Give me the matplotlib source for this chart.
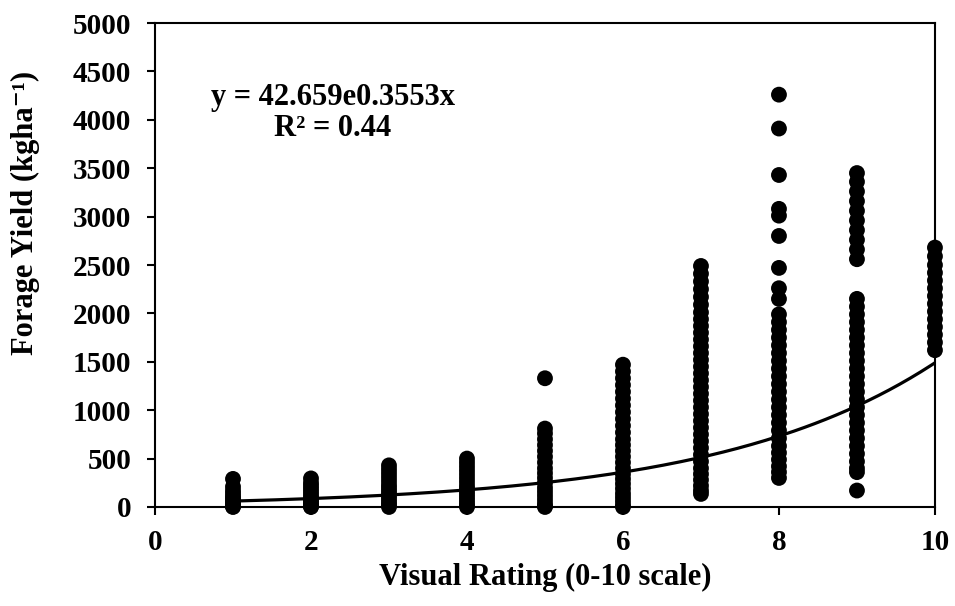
import numpy as np
import matplotlib
matplotlib.use("Agg")
import matplotlib.pyplot as plt

plt.rcParams["font.family"] = ["Liberation Serif", "DejaVu Serif"]
plt.rcParams["font.weight"] = "bold"

# forage yield (kg/ha) for each visual rating
ratings = [1, 2, 3, 4, 5, 6, 7, 8, 9, 10]
r1 = [290, 210, 170, 140, 110, 90, 70, 50, 30, 15, 5, 0]
r2 = [295, 250, 220, 190, 160, 130, 100, 80, 60, 40, 20, 5, 0]
r3 = [430, 390, 350, 310, 270, 230, 200, 170, 140, 110, 80, 50, 25, 0]
r4 = [500, 460, 420, 380, 340, 300, 260, 220, 190, 160, 130, 100, 70, 40, 15, 0]
r5 = [1330, 810, 760, 700, 640, 580, 520, 460, 400, 350, 300, 250, 200,
      160, 120, 80, 40, 10, 0]
r6 = [1470, 1400, 1330, 1260, 1190, 1120, 1050, 980, 910, 840, 770, 700,
      640, 580, 520, 460, 400, 340, 290, 240, 190, 140, 100, 60, 20, 0]
r7 = [2490, 2410, 2330, 2250, 2170, 2090, 2010, 1940, 1870, 1800, 1730,
      1660, 1590, 1520, 1450, 1380, 1310, 1240, 1170, 1100, 1030, 960, 890,
      820, 750, 680, 610, 540, 470, 400, 340, 280, 220, 170, 135]
r8 = [4260, 3910, 3430, 3080, 3010, 2800, 2470, 2260, 2150, 1990, 1910,
      1830, 1750, 1670, 1590, 1510, 1430, 1350, 1270, 1190, 1110, 1030, 950,
      870, 790, 710, 630, 560, 490, 420, 360, 300]
r9 = [3450, 3360, 3260, 3160, 3060, 2960, 2860, 2760, 2660, 2560, 2150,
      2070, 1990, 1910, 1830, 1750, 1670, 1590, 1510, 1430, 1350, 1270, 1190,
      1110, 1030, 950, 870, 790, 710, 630, 550, 470, 400, 360, 170]
r10 = [2680, 2590, 2500, 2420, 2340, 2260, 2180, 2100, 2020, 1940, 1860,
       1780, 1700, 1620]
yields = [r1, r2, r3, r4, r5, r6, r7, r8, r9, r10]

# exponential trendline reported on the chart
fit_a = 42.659
fit_b = 0.3553

fig = plt.figure(figsize=(9.55, 6.06), dpi=100)
ax = fig.add_axes([0.1623, 0.1634, 0.8167, 0.7986])

for r, vals in zip(ratings, yields):
    ax.scatter([r] * len(vals), vals, s=130, color="black", edgecolors="none",
               zorder=2, clip_on=False)

xs = np.linspace(1, 10, 200)
ax.plot(xs, fit_a * np.exp(fit_b * xs), color="black", lw=2.3, zorder=3)

ax.set_xlim(0, 10)
ax.set_ylim(0, 5000)
ax.set_xticks(range(0, 11, 2))
ax.set_yticks(range(0, 5001, 500))
for sp in ax.spines.values():
    sp.set_linewidth(1.5)
ax.tick_params(direction="out", length=6, width=1.5, labelsize=21)
ax.tick_params(axis="x", pad=10)
ax.tick_params(axis="y", pad=11)
for lab in ax.get_xticklabels() + ax.get_yticklabels():
    lab.set_fontweight("bold")

ax.set_xlabel("Visual Rating (0-10 scale)", fontsize=22, fontweight="bold", labelpad=5)
ax.set_ylabel("Forage Yield (kgha\u207b\u00b9)", fontsize=22, fontweight="bold")
ax.yaxis.set_label_coords(-0.147, 0.607)

ax.text(2.28, 4070, "y = 42.659e0.3553x\nR\u00b2 = 0.44", fontsize=22,
        fontweight="bold", ha="center", va="center", linespacing=1.1)

fig.savefig("out.png", dpi=100)
